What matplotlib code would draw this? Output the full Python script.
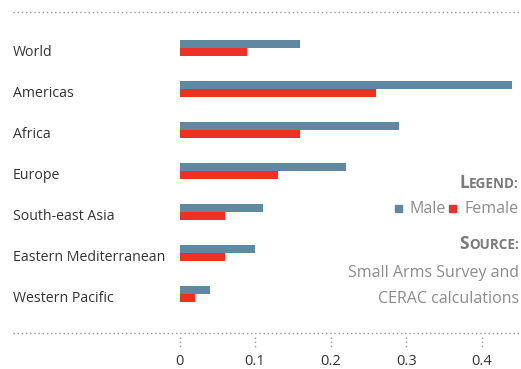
import numpy as np
import matplotlib
matplotlib.use("Agg")
import matplotlib.pyplot as plt
from matplotlib.transforms import blended_transform_factory

regions = ["World", "Americas", "Africa", "Europe", "South-east Asia",
           "Eastern Mediterranean", "Western Pacific"]
male = [0.16, 0.44, 0.29, 0.22, 0.11, 0.10, 0.04]
female = [0.09, 0.26, 0.16, 0.13, 0.06, 0.06, 0.02]
xticks = [0, 0.1, 0.2, 0.3, 0.4]

MALE_C = "#5f88a1"
FEMALE_C = "#ee3124"
DARK = "#333333"
GREY = "#8c8c8c"
HEAD = "#7a7a7a"
FONT = "Open Sans"

W, H = 521, 369
fig = plt.figure(figsize=(W / 100, H / 100), dpi=100)
# axes spans from x=0 (px 179.5) to right edge, between the two dotted rules
x0_px, top_px, bot_px = 179.5, 12, 333
ax = fig.add_axes([x0_px / W, 1 - bot_px / H, 1 - x0_px / W, (bot_px - top_px) / H])
px_per_unit = 755.5
ax.set_xlim(0, (W - x0_px) / px_per_unit)
row = 41.0
ax.set_ylim((bot_px - 48) / row, (top_px - 48) / row)

y = np.arange(len(regions))
bh = 8 / row
ax.barh(y - bh / 2, male, height=bh, color=MALE_C, linewidth=0)
ax.barh(y + bh / 2, female, height=bh, color=FEMALE_C, linewidth=0)

for s in ax.spines.values():
    s.set_visible(False)
ax.set_yticks([])
ax.set_xticks(xticks)
ax.set_xticklabels(["0" if t == 0 else f"{t:g}" for t in xticks],
                   fontsize=10.5, color=DARK, family=FONT)
ax.tick_params(axis="x", length=0, pad=15)

# dotted rules across the full width
fx = blended_transform_factory(fig.transFigure, ax.transAxes)
for yy in (0, 1):
    ax.plot([13 / W, 1], [yy, yy], transform=fx, clip_on=False,
            color="#999999", lw=1, ls=(0, (1, 2)))
# dotted tick marks under the bottom rule
tx = blended_transform_factory(ax.transData, fig.transFigure)
for t in xticks:
    ax.plot([t, t], [1 - 337 / H, 1 - 349 / H], transform=tx, clip_on=False,
            color="#999999", lw=1, ls=(0, (1, 2)))

# region labels
lx = blended_transform_factory(fig.transFigure, ax.transData)
for i, r in enumerate(regions):
    ax.text(13 / W, i + 0.1, r, transform=lx, ha="left", va="center",
            fontsize=10.2, color=DARK, family=FONT)

renderer = fig.canvas.get_renderer()
right = 519 / W


def fy(px):
    return 1 - px / H


def small_caps(word, ypx, size):
    rest = fig.text(right, fy(ypx), word[1:].upper(), ha="right", va="baseline",
                    fontsize=size * 0.78, color=HEAD, family=FONT, weight="bold")
    bb = rest.get_window_extent(renderer)
    fig.text(bb.x0 / W, fy(ypx), word[0].upper(), ha="right", va="baseline",
             fontsize=size, color=HEAD, family=FONT, weight="bold")


small_caps("Legend:", 188, 12.5)
small_caps("Source:", 249, 12.5)

# legend row: square Male square Female, right-aligned
ly = fy(213)
sq = 7
t = fig.text(right, ly, "Female", ha="right", va="baseline", fontsize=11.5,
             color=GREY, family=FONT)
bx = t.get_window_extent(renderer).x0
fig.patches.append(plt.Rectangle(((bx - 16) / W, fy(212)), sq / W, sq / H,
                                 transform=fig.transFigure, color=FEMALE_C))
t = fig.text((bx - 19) / W, ly, "Male", ha="right", va="baseline", fontsize=11.5,
             color=GREY, family=FONT)
bx = t.get_window_extent(renderer).x0
fig.patches.append(plt.Rectangle(((bx - 15) / W, fy(212)), sq / W, sq / H,
                                 transform=fig.transFigure, color=MALE_C))

fig.text(right, fy(277), "Small Arms Survey and", ha="right", va="baseline",
         fontsize=11.5, color=GREY, family=FONT)
fig.text(right, fy(303), "CERAC calculations", ha="right", va="baseline",
         fontsize=11.5, color=GREY, family=FONT)

fig.savefig("out.png", dpi=100)
